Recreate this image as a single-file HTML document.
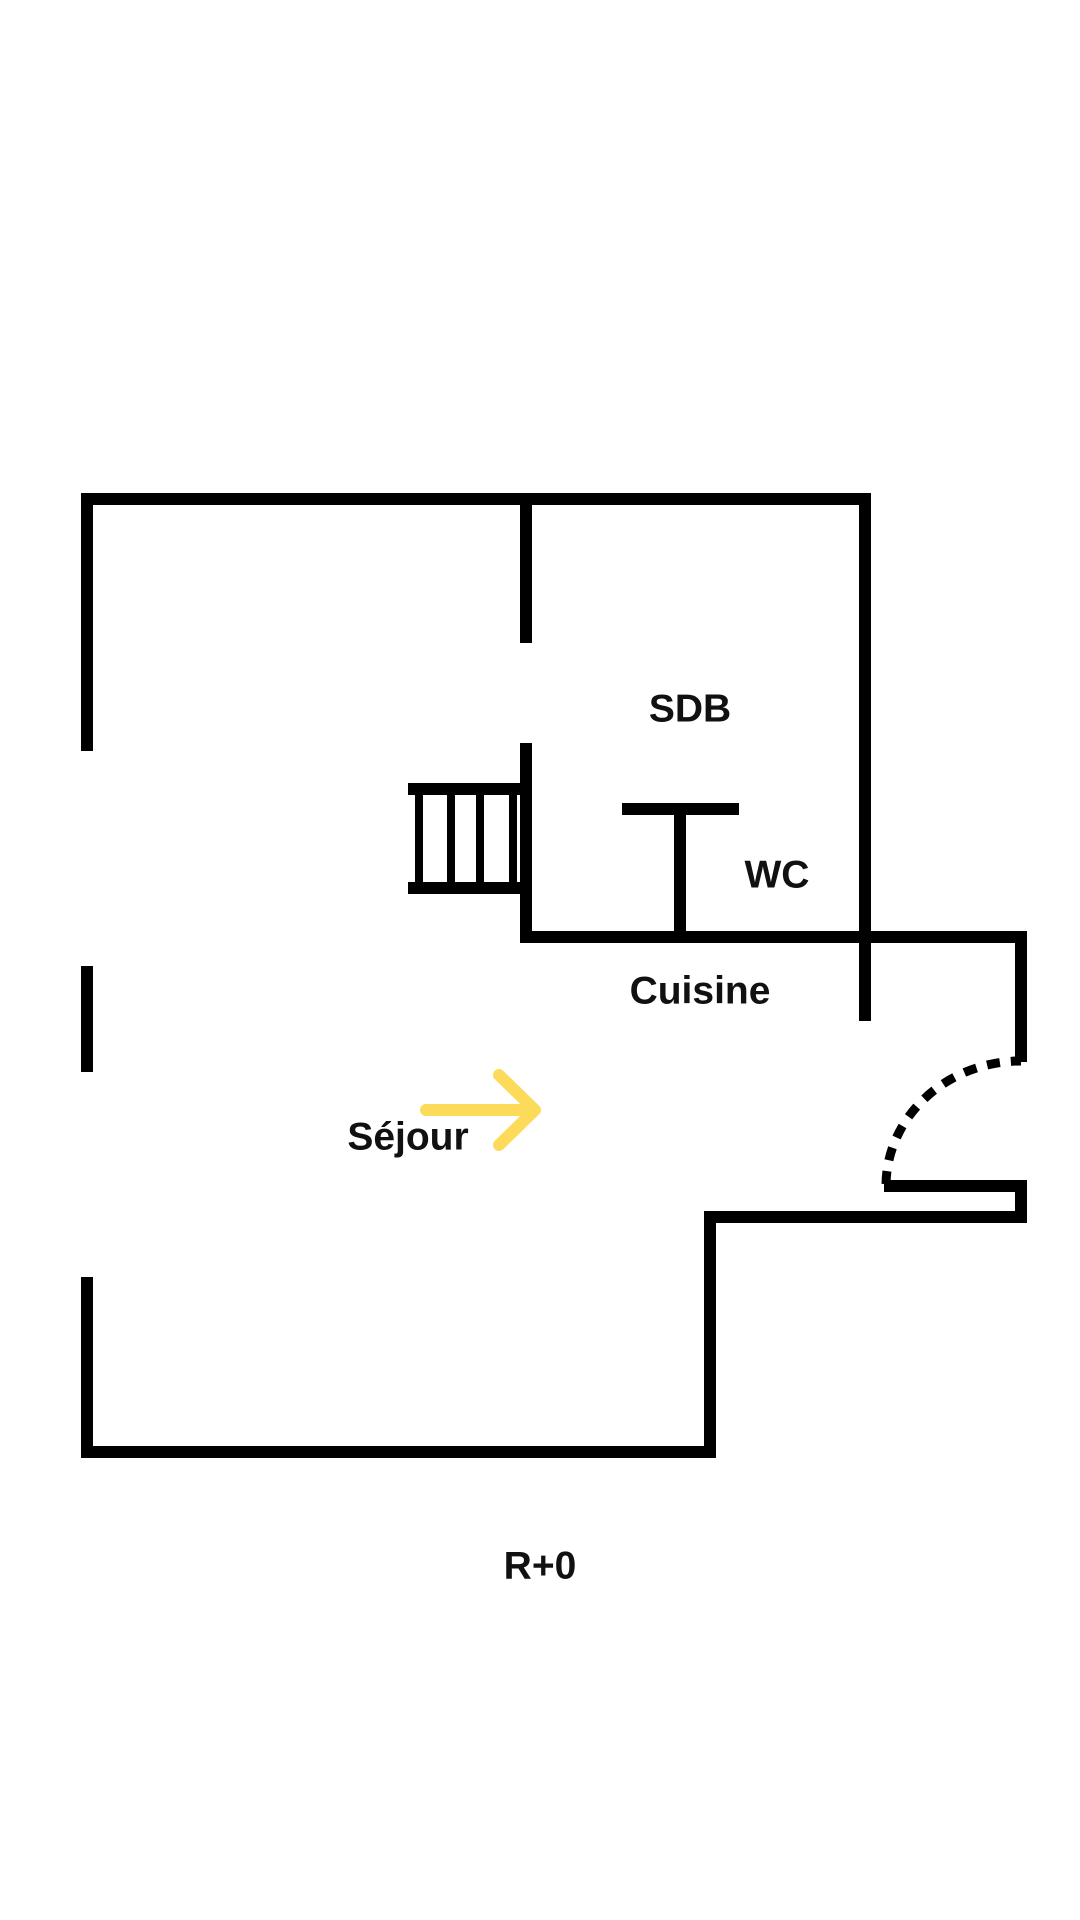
<!DOCTYPE html>
<html><head><meta charset="utf-8"><style>
html,body{margin:0;padding:0;background:#fff;}
svg{display:block}
text{font-family:"Liberation Sans",sans-serif;font-weight:bold;fill:#111;text-anchor:middle;dominant-baseline:central}
</style></head><body>
<svg width="1080" height="1920" viewBox="0 0 1080 1920" xmlns="http://www.w3.org/2000/svg">
<g stroke="#000" stroke-width="12" fill="none" stroke-linecap="butt">
<polyline points="87,751 87,499 865,499 865,1021"/>
<line x1="87" y1="966" x2="87" y2="1072"/>
<polyline points="87,1277 87,1452 710,1452 710,1217 1021,1217 1021,1186 884,1186"/>
<line x1="526" y1="499" x2="526" y2="643"/>
<polyline points="526,743 526,937 1021,937 1021,1062"/>
<line x1="622" y1="809" x2="739" y2="809"/>
<line x1="680" y1="809" x2="680" y2="937"/>
<line x1="408" y1="789" x2="526" y2="789"/>
<line x1="408" y1="888" x2="526" y2="888"/>
<g stroke-width="8">
<line x1="419" y1="789" x2="419" y2="888"/>
<line x1="451" y1="789" x2="451" y2="888"/>
<line x1="480" y1="789" x2="480" y2="888"/>
<line x1="513" y1="789" x2="513" y2="888"/>
</g>
<path d="M886,1184 A135,125 0 0 1 1021,1061" stroke-width="9" stroke-dasharray="13,11"/>
</g>
<g stroke="#FDDB5A" stroke-width="12" fill="none" stroke-linecap="round" stroke-linejoin="round">
<line x1="426" y1="1110" x2="534" y2="1110"/>
<polyline points="499,1075 535,1110 499,1145"/>
</g>
<text x="690" y="709" font-size="39">SDB</text>
<text x="777" y="875" font-size="39">WC</text>
<text x="700" y="991" font-size="39">Cuisine</text>
<text x="408" y="1137" font-size="39">Séjour</text>
<text x="540" y="1566" font-size="39">R+0</text>
</svg>
</body></html>
